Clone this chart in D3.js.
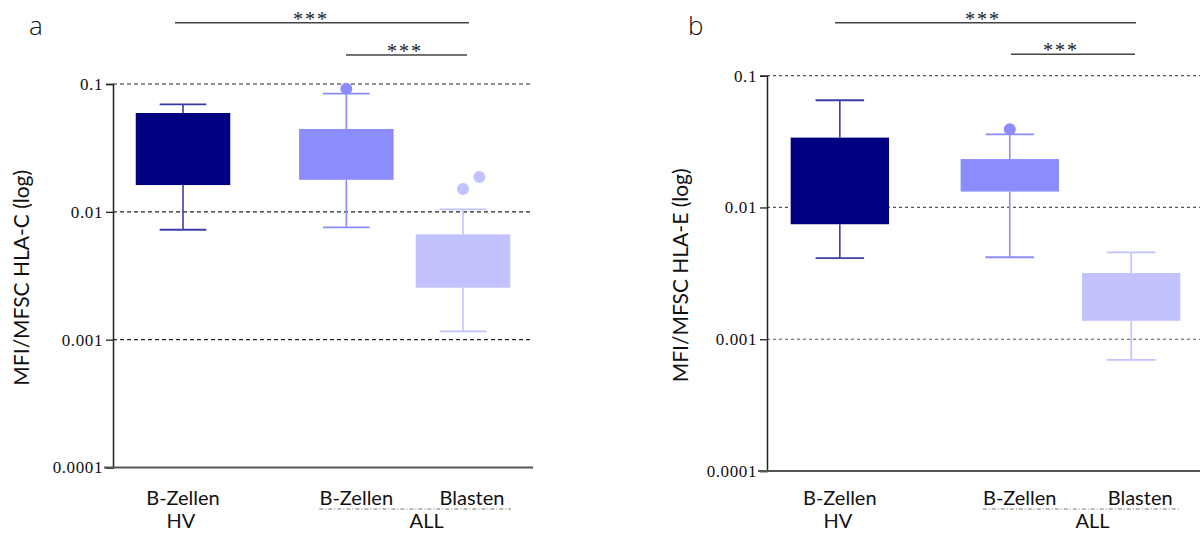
<!DOCTYPE html>
<html>
<head>
<meta charset="utf-8">
<script src="https://cdn.jsdelivr.net/npm/d3@7/dist/d3.min.js"></script>
<style>
  html, body { margin: 0; padding: 0; background: #fff; }
  svg { display: block; }
</style>
</head>
<body>
<svg id="chart" width="1200" height="533"></svg>
<script>
// Groups shown on the x axis (slot position on the axis, first/second label line)
const groups = ["B-Zellen HV", "B-Zellen ALL", "Blasten ALL"];
const groupSlots = [0, 1.4, 2.4];
const groupColors = ["#000080", "#8c8cff", "#c2c2ff"];
const whiskerColors = ["#3c3ca6", "#8c8cff", "#c2c2ff"];
const yTicks = [0.0001, 0.001, 0.01, 0.1];
const yTickLabels = ["0.0001", "0.001", "0.01", "0.1"];

// HLA-C: box statistics per group
const hlaC_min = [0.00724, 0.00756, 0.00116];
const hlaC_q1  = [0.0162, 0.0178, 0.00255];
const hlaC_q3  = [0.0593, 0.0445, 0.00667];
const hlaC_max = [0.0693, 0.0840, 0.01047];
const hlaC_outliers = [[], [0.0919], [0.01508, 0.0187]];
const hlaC_outlierOffsets = [[], [0], [0, 0.14]];

// HLA-E: box statistics per group
const hlaE_min = [0.00412, 0.00419, 0.000697];
const hlaE_q1  = [0.00746, 0.0132, 0.00138];
const hlaE_q3  = [0.0339, 0.0233, 0.00318];
const hlaE_max = [0.0651, 0.0359, 0.00457];
const hlaE_outliers = [[], [0.0392], []];
const hlaE_outlierOffsets = [[], [0], []];

// Significance brackets: [from slot, to slot]
const sigPairs = [[0, 2.4], [1.4, 2.4]];
const sigLabels = ["***", "***"];

const svg = d3.select("#chart");

function drawPanel(cfg) {
  const g = svg.append("g");
  const x = d3.scaleLinear().domain([-0.6, 3.0]).range([cfg.x0, cfg.x1]);
  const y = d3.scaleLog().domain([0.0001, 0.1]).range([cfg.yBottom, cfg.yTop]);
  const unit = x(1) - x(0);
  const boxW = unit * 0.81;
  const capW = unit * 0.40;

  // panel letter
  g.append("text").attr("x", cfg.letterX).attr("y", 35)
    .attr("font-family", "Open Sans, sans-serif").attr("font-size", 26).attr("font-weight", 300)
    .attr("fill", "#111").text(cfg.letter);

  // dashed gridlines
  g.selectAll(".grid").data(yTicks.slice(1)).enter().append("line")
    .attr("x1", cfg.x0).attr("x2", cfg.x1)
    .attr("y1", d => y(d)).attr("y2", d => y(d))
    .attr("stroke", cfg.gridColor).attr("stroke-width", 1.2)
    .attr("stroke-dasharray", cfg.gridDash);

  // y axis
  const yAxis = d3.axisLeft(y).tickValues(yTicks)
    .tickFormat((d, i) => yTickLabels[i]).tickSize(7).tickPadding(3);
  const ya = g.append("g").attr("transform", `translate(${cfg.x0},0)`).call(yAxis);
  ya.select(".domain").attr("stroke", "#222").attr("stroke-width", 1.5);
  ya.selectAll(".tick line").attr("stroke", "#222").attr("stroke-width", 1.3);
  ya.selectAll(".tick text").attr("font-family", "Liberation Serif, serif")
    .attr("font-size", 17).attr("letter-spacing", 0.6).attr("fill", "#111");

  // x axis baseline
  g.append("line").attr("x1", cfg.x0 - 9).attr("x2", cfg.x1)
    .attr("y1", cfg.yBottom).attr("y2", cfg.yBottom)
    .attr("stroke", "#555").attr("stroke-width", 2);

  // y label
  g.append("text")
    .attr("transform", `translate(${cfg.ylabelX},${(cfg.yTop + cfg.yBottom) / 2 + 2}) rotate(-90)`)
    .attr("text-anchor", "middle")
    .attr("font-family", "Lato, sans-serif").attr("font-size", 21).attr("fill", "#111")
    .text(cfg.ylabel);

  // boxes
  const d = cfg.data;
  groups.forEach((grp, i) => {
    const cx = x(groupSlots[i]);
    const wc = whiskerColors[i];
    // whisker stems
    g.append("line").attr("x1", cx).attr("x2", cx)
      .attr("y1", y(d.max[i])).attr("y2", y(d.q3[i]))
      .attr("stroke", wc).attr("stroke-width", 1.6);
    g.append("line").attr("x1", cx).attr("x2", cx)
      .attr("y1", y(d.q1[i])).attr("y2", y(d.min[i]))
      .attr("stroke", wc).attr("stroke-width", 1.6);
    // caps
    [d.max[i], d.min[i]].forEach(v => {
      g.append("line").attr("x1", cx - capW / 2).attr("x2", cx + capW / 2)
        .attr("y1", y(v)).attr("y2", y(v))
        .attr("stroke", wc).attr("stroke-width", 1.8);
    });
    // box
    g.append("rect").attr("x", cx - boxW / 2).attr("width", boxW)
      .attr("y", y(d.q3[i])).attr("height", y(d.q1[i]) - y(d.q3[i]))
      .attr("fill", groupColors[i]);
    // outliers
    d.outliers[i].forEach((v, k) => {
      g.append("circle").attr("cx", x(groupSlots[i] + d.offsets[i][k])).attr("cy", y(v))
        .attr("r", 6).attr("fill", groupColors[i]);
    });
  });

  // significance brackets
  sigPairs.forEach((p, k) => {
    const yy = cfg.sigY[k];
    g.append("line").attr("x1", cfg.sigX[k][0]).attr("x2", cfg.sigX[k][1])
      .attr("y1", yy).attr("y2", yy).attr("stroke", "#444").attr("stroke-width", 1.6);
    g.append("text").attr("x", cfg.sigTextX[k]).attr("y", yy + 3)
      .attr("text-anchor", "middle").attr("letter-spacing", 2)
      .attr("font-family", "Liberation Serif, serif").attr("font-size", 20).attr("fill", "#222")
      .text(sigLabels[k]);
  });

  // category labels
  const lab = (txt, xx, yy) => g.append("text").attr("x", xx).attr("y", yy)
    .attr("text-anchor", "middle").attr("font-family", "Lato, sans-serif")
    .attr("font-size", 20).attr("fill", "#111").text(txt);
  lab("B-Zellen", x(groupSlots[0]), 505);
  lab("HV", x(groupSlots[0]) - 2, 528);
  lab("B-Zellen", x(groupSlots[1]) + 10, 505);
  lab("Blasten", x(groupSlots[2]) + 9, 505);
  lab("ALL", (x(groupSlots[1]) + x(groupSlots[2])) / 2 + 22, 528);
  g.append("line")
    .attr("x1", x(groupSlots[1]) - 27).attr("x2", x(groupSlots[2]) + 48)
    .attr("y1", 509).attr("y2", 509)
    .attr("stroke", "#777").attr("stroke-width", 1)
    .attr("stroke-dasharray", "4,2,1,2");
}

drawPanel({
  letter: "a", letterX: 29, x0: 113, x1: 533, yTop: 84, yBottom: 467.5,
  ylabelX: 29, ylabel: "MFI/MFSC HLA-C (log)",
  gridColor: "#222", gridDash: "4,3",
  sigY: [22.7, 55], sigX: [[175, 469], [346, 467]], sigTextX: [311, 405],
  data: { min: hlaC_min, q1: hlaC_q1, q3: hlaC_q3, max: hlaC_max,
          outliers: hlaC_outliers, offsets: hlaC_outlierOffsets }
});

drawPanel({
  letter: "b", letterX: 688, x0: 767, x1: 1204, yTop: 75.7, yBottom: 471,
  ylabelX: 688, ylabel: "MFI/MFSC HLA-E (log)",
  gridColor: "#555", gridDash: "3,3",
  sigY: [22.7, 54.3], sigX: [[835, 1136], [1011, 1135]], sigTextX: [983, 1061],
  data: { min: hlaE_min, q1: hlaE_q1, q3: hlaE_q3, max: hlaE_max,
          outliers: hlaE_outliers, offsets: hlaE_outlierOffsets }
});
</script>
</body>
</html>
